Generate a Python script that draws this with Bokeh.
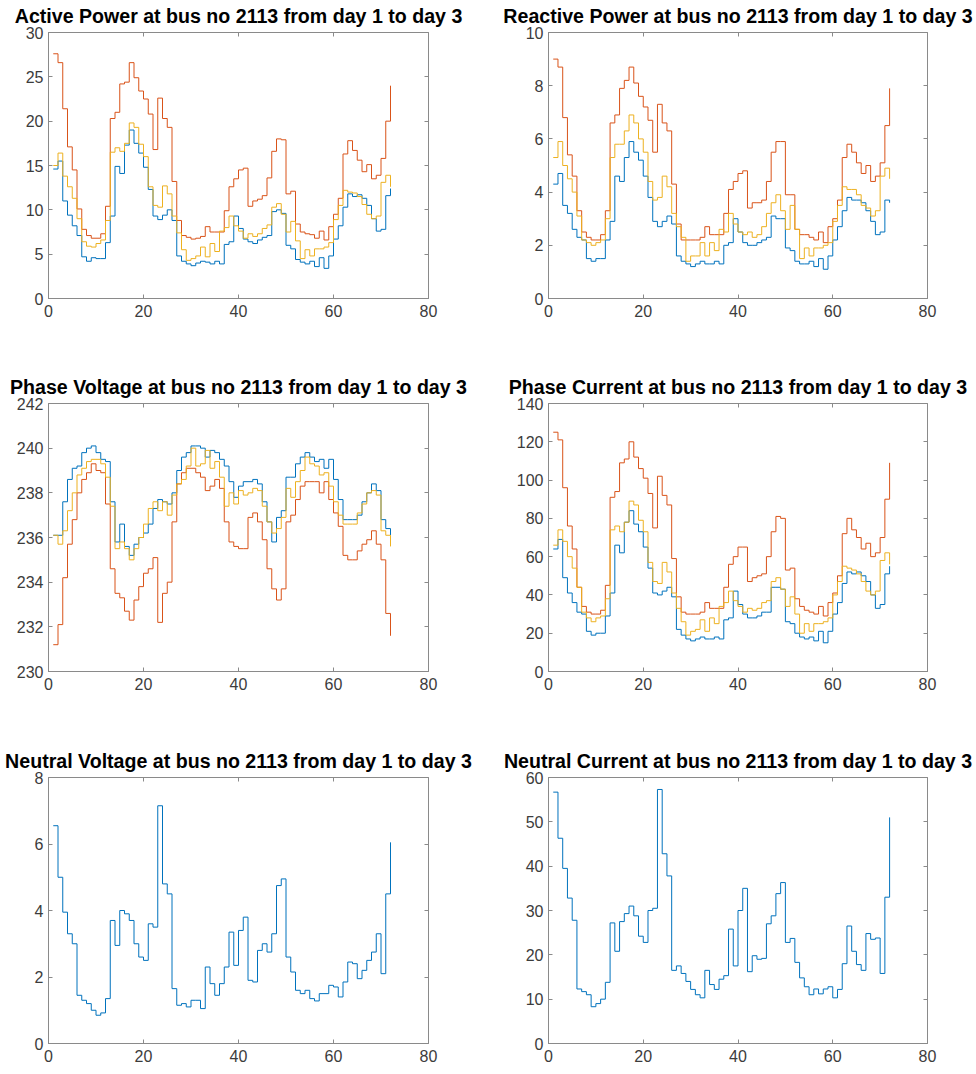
from bokeh.plotting import figure
from bokeh.layouts import column, row
from bokeh.models import Range1d, FixedTicker, LinearAxis
from bokeh.embed import file_html
from bokeh.resources import INLINE

hours = list(range(1, 73))

active_blue = [14.6, 15.5, 11.0, 9.4, 8.2, 7.1, 4.7, 4.2, 4.6, 4.5,
               4.5, 6.3, 9.3, 14.9, 14.1, 17.3, 19.0, 17.5, 16.4, 14.8,
               12.3, 9.3, 8.9, 9.4, 10.0, 8.8, 4.8, 4.2, 3.9, 3.7,
               4.0, 4.2, 4.1, 3.9, 4.2, 3.9, 6.1, 6.4, 9.3, 7.9,
               6.7, 6.4, 6.2, 6.6, 6.9, 7.1, 9.8, 10.0, 9.6, 6.0,
               5.6, 4.4, 4.1, 3.9, 4.2, 3.6, 4.6, 3.4, 4.8, 6.7,
               8.2, 10.3, 11.8, 11.5, 11.7, 11.3, 10.5, 9.0, 7.6, 7.8,
               11.6, 12.4]
active_red = [27.6, 26.6, 21.4, 17.1, 14.5, 10.1, 7.8, 7.1, 6.8, 6.8,
              7.3, 10.4, 20.3, 21.0, 24.2, 24.4, 26.6, 24.9, 23.4, 22.5,
              20.8, 16.8, 22.6, 20.3, 19.3, 13.2, 8.8, 7.1, 6.9, 6.7,
              6.8, 7.0, 8.1, 7.5, 7.5, 7.5, 9.9, 12.6, 13.5, 14.5,
              14.7, 10.4, 11.0, 11.2, 11.6, 13.6, 16.6, 18.0, 17.9, 11.8,
              12.1, 8.4, 7.5, 7.3, 7.2, 6.8, 7.6, 6.6, 8.1, 9.5,
              11.3, 16.3, 17.8, 16.7, 15.6, 14.3, 15.1, 13.5, 13.9, 15.8,
              20.0, 24.0]
active_yellow = [15.0, 16.4, 13.8, 12.6, 11.3, 9.0, 6.4, 5.9, 5.8, 6.2,
                 6.6, 8.8, 16.5, 17.0, 16.6, 17.5, 19.8, 19.3, 17.4, 16.0,
                 12.6, 10.5, 10.3, 12.7, 11.8, 9.3, 7.4, 5.5, 4.3, 4.5,
                 4.8, 5.8, 4.7, 6.2, 5.3, 7.6, 8.0, 9.3, 8.2, 7.6,
                 6.8, 7.3, 7.0, 7.3, 7.9, 8.3, 10.3, 10.7, 9.5, 7.5,
                 8.7, 6.5, 4.5, 5.5, 4.8, 5.6, 5.6, 5.8, 6.3, 8.9,
                 10.5, 12.2, 12.0, 11.9, 11.5, 10.6, 9.5, 9.0, 9.3, 13.1,
                 13.9, 12.6]

reactive_blue = [4.3, 4.7, 3.5, 3.2, 2.6, 2.3, 2.2, 1.5, 1.4, 1.5,
                 1.5, 2.2, 2.9, 4.6, 4.4, 5.3, 5.9, 5.5, 5.2, 4.6,
                 3.8, 2.9, 2.7, 2.9, 3.1, 2.8, 1.6, 1.4, 1.3, 1.2,
                 1.3, 1.4, 1.3, 1.3, 1.4, 1.3, 2.0, 2.1, 3.0, 2.5,
                 2.1, 2.0, 2.0, 2.1, 2.2, 2.3, 3.1, 3.0, 3.0, 1.9,
                 1.8, 1.4, 1.3, 1.3, 1.4, 1.2, 1.5, 1.1, 1.6, 2.2,
                 2.7, 3.3, 3.8, 3.7, 3.7, 3.6, 3.3, 2.9, 2.4, 2.5,
                 3.7, 3.6]
reactive_red = [9.0, 8.7, 6.8, 5.4, 4.6, 3.3, 2.5, 2.3, 2.2, 2.2,
                2.4, 3.3, 6.6, 6.9, 7.9, 8.2, 8.7, 8.1, 7.6, 7.2,
                6.7, 5.5, 7.3, 6.6, 6.3, 4.3, 2.8, 2.2, 2.2, 2.2,
                2.2, 2.3, 2.7, 2.4, 2.4, 2.4, 3.2, 4.1, 4.4, 4.7,
                4.8, 3.4, 3.6, 3.6, 3.7, 4.4, 5.5, 5.9, 5.9, 3.9,
                3.9, 2.6, 2.4, 2.4, 2.3, 2.2, 2.5, 2.1, 2.7, 3.0,
                3.7, 5.3, 5.8, 5.5, 5.1, 4.7, 5.0, 4.4, 4.6, 5.1,
                6.5, 7.9]
reactive_yellow = [5.3, 5.9, 5.0, 4.5, 4.0, 3.1, 2.2, 2.1, 2.0, 2.1,
                   2.2, 3.0, 5.3, 5.8, 5.8, 6.3, 6.9, 6.6, 6.0, 5.5,
                   4.4, 3.7, 3.8, 4.6, 4.2, 3.2, 2.7, 2.3, 1.4, 1.6,
                   1.6, 2.1, 1.6, 2.1, 1.8, 2.6, 2.5, 3.2, 2.8, 2.5,
                   2.4, 2.5, 2.3, 2.4, 2.7, 3.2, 3.6, 3.9, 3.3, 2.6,
                   3.5, 2.6, 1.5, 1.9, 1.6, 1.9, 1.9, 2.0, 2.1, 2.9,
                   3.5, 4.2, 4.1, 4.1, 3.9, 3.5, 3.4, 3.1, 3.3, 4.6,
                   4.9, 4.5]

voltage_blue = [236.1, 236.1, 237.6, 238.6, 239.1, 239.2, 239.8, 240.0, 240.1, 239.8,
                239.5, 239.4, 237.6, 235.8, 236.6, 235.6, 235.2, 235.7, 236.0, 236.2,
                236.6, 237.3, 237.7, 237.6, 237.5, 238.0, 239.0, 239.6, 239.8, 240.1,
                240.1, 240.0, 239.6, 239.9, 239.8, 239.5, 239.2, 238.5, 237.8, 238.3,
                238.5, 238.5, 238.6, 238.4, 237.6, 236.7, 235.8, 236.9, 237.2, 238.7,
                238.7, 239.3, 239.6, 239.8, 239.6, 239.4, 239.5, 239.1, 239.5, 238.6,
                237.7, 236.8, 236.8, 236.8, 237.0, 237.6, 238.0, 238.4, 238.1, 236.8,
                236.4, 236.1]
voltage_red = [231.2, 232.1, 234.2, 235.7, 236.8, 238.0, 238.6, 238.9, 239.3, 239.0,
               238.9, 237.5, 234.6, 233.5, 233.3, 232.7, 232.3, 233.2, 233.8, 234.4,
               234.6, 235.1, 232.2, 233.5, 234.0, 236.7, 238.4, 238.9, 239.1, 239.1,
               238.9, 238.7, 238.1, 238.3, 238.6, 238.2, 236.7, 235.8, 235.6, 235.5,
               235.5, 236.9, 237.1, 236.7, 235.9, 234.6, 233.7, 233.2, 233.7, 236.7,
               237.0, 237.7, 238.3, 238.5, 238.5, 238.5, 238.0, 238.5, 237.7, 237.1,
               236.5, 235.2, 235.0, 235.0, 235.4, 235.7, 235.9, 236.3, 235.7, 235.0,
               232.6, 231.6]
voltage_yellow = [236.1, 235.7, 236.3, 237.2, 238.0, 238.8, 239.1, 239.4, 239.5, 239.5,
                  239.3, 238.7, 237.4, 235.5, 235.8, 235.5, 235.0, 235.5, 236.0, 236.6,
                  237.3, 237.6, 237.2, 237.6, 237.0, 237.9, 238.4, 238.6, 239.2, 240.0,
                  239.2, 239.3, 239.9, 239.1, 239.4, 238.7, 237.4, 238.0, 237.5, 238.1,
                  237.9, 238.0, 238.2, 238.1, 237.4, 236.7, 236.2, 236.4, 236.9, 238.2,
                  237.8, 238.5, 239.0, 239.6, 239.3, 239.2, 238.8, 238.9, 238.3, 237.6,
                  237.0, 236.6, 236.6, 236.6, 237.1, 237.5, 238.0, 238.1, 237.9, 236.3,
                  236.1, 235.6]

current_blue = [64, 69, 49, 41, 36, 31, 30, 21, 19, 20,
                20, 29, 41, 66, 62, 78, 84, 77, 73, 65,
                54, 41, 40, 42, 44, 39, 22, 19, 17, 16,
                17, 18, 17, 17, 18, 17, 27, 28, 42, 35,
                30, 28, 28, 29, 31, 31, 44, 44, 43, 26,
                25, 20, 18, 17, 18, 16, 21, 15, 21, 30,
                36, 46, 52, 51, 52, 50, 47, 40, 33, 35,
                51, 55]
current_red = [125, 121, 96, 76, 64, 44, 34, 31, 30, 30,
               32, 45, 91, 94, 109, 111, 120, 112, 106, 101,
               93, 75, 102, 92, 87, 59, 39, 31, 30, 30,
               30, 31, 36, 33, 33, 33, 44, 56, 60, 65,
               65, 47, 49, 50, 51, 60, 73, 81, 80, 53,
               54, 38, 34, 32, 31, 30, 34, 29, 36, 41,
               50, 72, 80, 74, 70, 64, 67, 60, 62, 70,
               90, 109]
current_yellow = [66, 74, 68, 60, 54, 44, 31, 28, 26, 28,
                  29, 38, 74, 76, 73, 78, 89, 87, 79, 73,
                  57, 47, 46, 57, 52, 41, 33, 26, 19, 21,
                  22, 27, 21, 28, 25, 34, 36, 42, 37, 34,
                  31, 33, 32, 33, 36, 37, 47, 49, 43, 34,
                  39, 30, 20, 25, 21, 25, 25, 26, 28, 40,
                  47, 55, 54, 53, 51, 47, 42, 40, 42, 58,
                  62, 56]

neutral_voltage = [6.55, 5.0, 3.95, 3.3, 3.0, 1.45, 1.3, 1.2, 1.0, 0.85,
                   0.92, 1.35, 3.7, 2.95, 4.0, 3.9, 3.7, 3.0, 2.6, 2.5,
                   3.6, 3.5, 7.15, 4.8, 4.5, 1.65, 1.15, 1.2, 1.1, 1.3,
                   1.3, 1.05, 2.3, 1.8, 1.45, 1.8, 2.3, 3.35, 2.35, 3.4,
                   3.8, 1.9, 1.85, 2.8, 3.0, 2.75, 3.3, 4.75, 4.95, 2.6,
                   2.15, 1.6, 1.5, 1.6, 1.35, 1.28, 1.5, 1.5, 1.75, 1.7,
                   1.4, 1.85, 2.45, 2.4, 1.95, 2.2, 2.5, 2.75, 3.3, 2.1,
                   4.5, 6.05]
neutral_current = [56.7, 46.3, 39.5, 32.8, 27.8, 12.3, 11.7, 11.0, 8.3, 9.0,
                   10.0, 13.8, 27.2, 20.8, 27.5, 29.3, 31.0, 28.8, 24.2, 22.8,
                   30.0, 30.5, 57.3, 42.8, 37.8, 16.5, 17.5, 15.8, 14.0, 12.2,
                   11.0, 10.3, 16.5, 13.3, 12.2, 14.5, 15.3, 25.8, 17.5, 30.0,
                   35.0, 16.2, 19.8, 19.0, 19.2, 27.0, 28.8, 33.8, 36.3, 22.8,
                   23.7, 18.3, 14.8, 12.8, 11.0, 12.3, 11.2, 12.3, 12.8, 10.3,
                   12.2, 18.0, 26.5, 20.8, 17.8, 16.5, 24.8, 23.5, 23.8, 15.8,
                   33.0, 51.0]

x_ticks = [0, 20, 40, 60, 80]
active_ticks = [0, 5, 10, 15, 20, 25, 30]
reactive_ticks = [0, 2, 4, 6, 8, 10]
voltage_ticks = [230, 232, 234, 236, 238, 240, 242]
current_ticks = [0, 20, 40, 60, 80, 100, 120, 140]
nvolt_ticks = [0, 2, 4, 6, 8]
ncurr_ticks = [0, 10, 20, 30, 40, 50, 60]

titles = ["Active Power at bus no 2113 from day 1 to day 3",
          "Reactive Power at bus no 2113 from day 1 to day 3",
          "Phase Voltage at bus no 2113 from day 1 to day 3",
          "Phase Current at bus no 2113 from day 1 to day 3",
          "Neutral Voltage at bus no 2113 from day 1 to day 3",
          "Neutral Current at bus no 2113 from day 1 to day 3"]

COLORS = ["#0072BD", "#D95319", "#EDB120"]
BOX = "#8a8a8a"
LABEL = "#3c3c3c"
FONT = "Liberation Sans"


def panel(title, series, yr, yticks, left, right, top, bottom, fh, fw):
    p = figure(frame_width=fw, frame_height=fh,
               x_range=Range1d(0, 80), y_range=Range1d(*yr),
               output_backend="svg", toolbar_location=None,
               min_border_left=left, min_border_right=right,
               min_border_top=top, min_border_bottom=bottom,
               title=title)
    p.title.align = "center"
    p.title.text_font = FONT
    p.title.text_font_size = "19.6px"
    p.title.text_font_style = "bold"
    p.title.text_color = "#000000"
    p.title.standoff = 11
    p.grid.visible = False
    p.outline_line_color = BOX
    p.outline_line_width = 1
    p.background_fill_color = "white"
    p.border_fill_color = "white"
    p.xaxis.ticker = FixedTicker(ticks=x_ticks)
    p.yaxis.ticker = FixedTicker(ticks=yticks)
    for ax in list(p.xaxis) + list(p.yaxis):
        ax.axis_line_color = BOX
        ax.major_tick_line_color = BOX
        ax.major_tick_in = 4
        ax.major_tick_out = 0
        ax.minor_tick_line_color = None
        ax.major_label_text_color = LABEL
        ax.major_label_text_font = FONT
        ax.major_label_text_font_size = "16px"
    p.xaxis.major_label_standoff = 6
    p.yaxis.major_label_standoff = 5
    for loc, tks in (("above", x_ticks), ("right", yticks)):
        ax = LinearAxis(ticker=FixedTicker(ticks=tks),
                        axis_line_color=None, major_tick_line_color=BOX,
                        major_tick_in=4, major_tick_out=0,
                        minor_tick_line_color=None,
                        major_label_text_color=None,
                        major_label_text_font_size="0px",
                        major_label_standoff=0)
        p.add_layout(ax, loc)
    for ys, c in zip(series, COLORS):
        p.step(hours, ys, mode="after", line_color=c, line_width=1)
    return p


p1 = panel(titles[0], [active_blue, active_red, active_yellow], (0, 30), active_ticks, 48, 48, 33, 70, 266, 380)
p2 = panel(titles[1], [reactive_blue, reactive_red, reactive_yellow], (0, 10), reactive_ticks, 72, 48, 33, 70, 266, 379)
p3 = panel(titles[2], [voltage_blue, voltage_red, voltage_yellow], (230, 242), voltage_ticks, 48, 48, 33, 71, 268, 380)
p4 = panel(titles[3], [current_blue, current_red, current_yellow], (0, 140), current_ticks, 72, 48, 33, 71, 268, 379)
p5 = panel(titles[4], [neutral_voltage], (0, 8), nvolt_ticks, 48, 48, 33, 22, 266, 380)
p6 = panel(titles[5], [neutral_current], (0, 60), ncurr_ticks, 72, 48, 33, 22, 266, 379)

layout = column(row(p1, p2), row(p3, p4), row(p5, p6), margin=(-3, 0, 0, 0))

open("out.html", "w").write(file_html(layout, INLINE))
